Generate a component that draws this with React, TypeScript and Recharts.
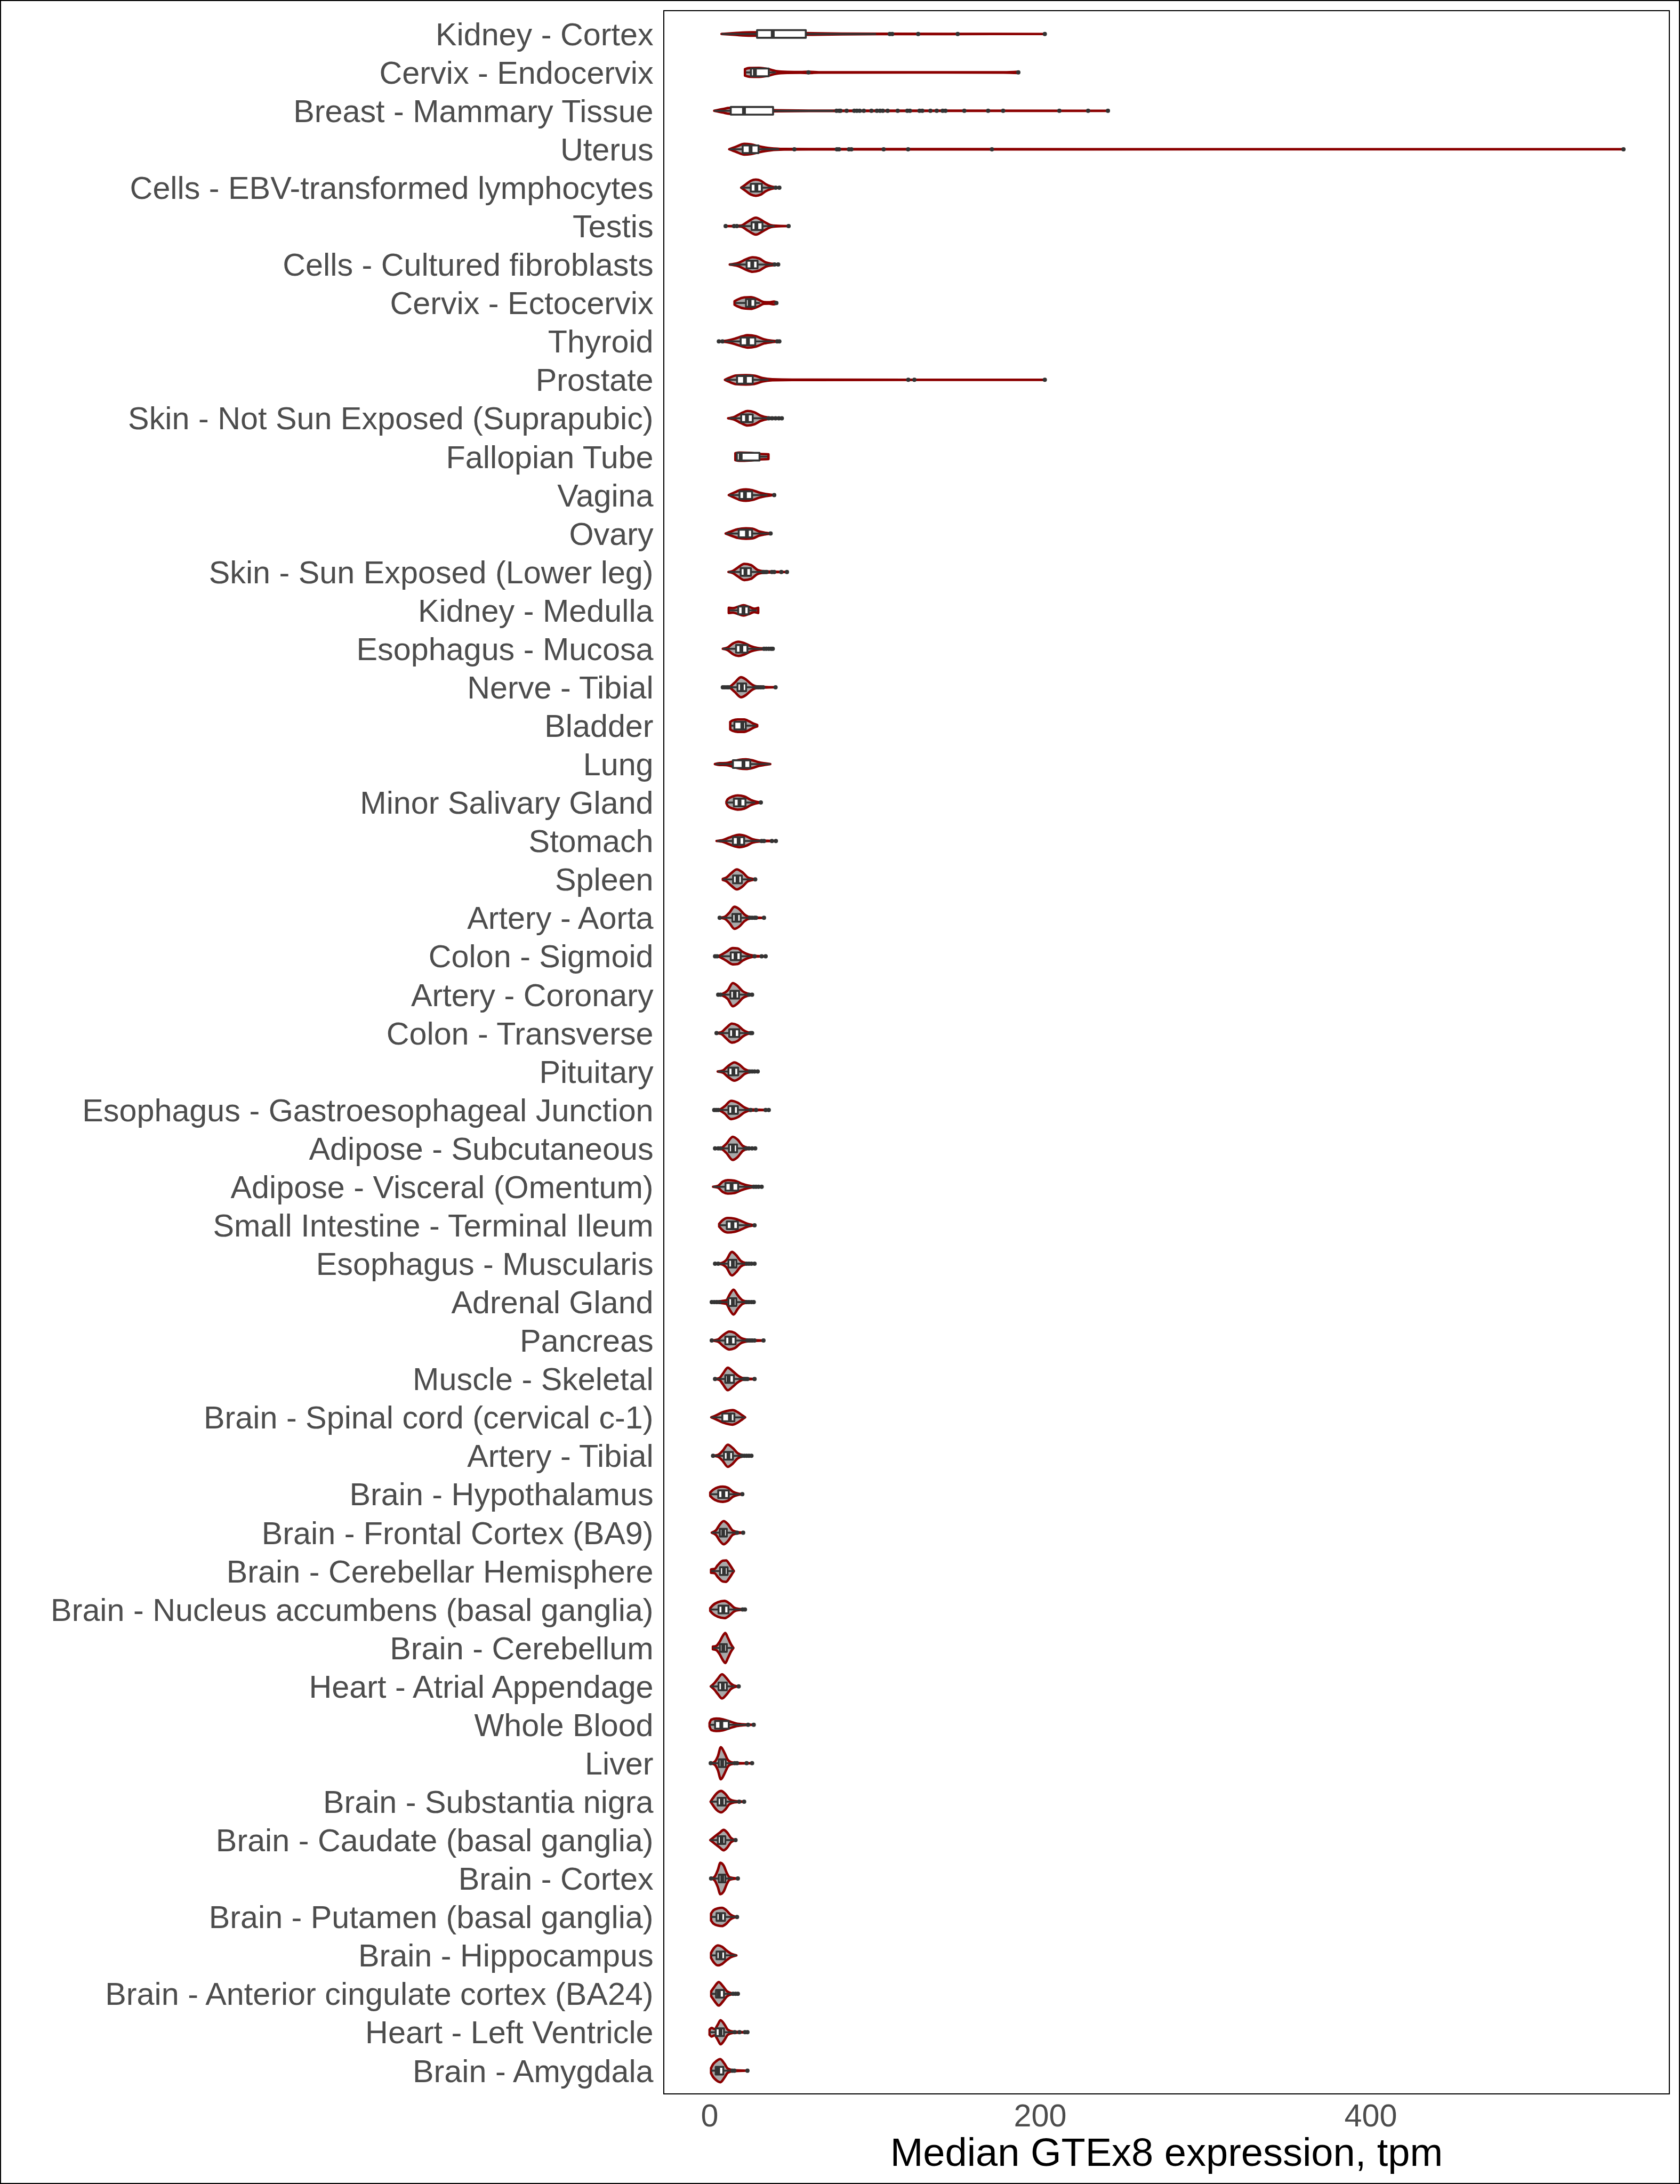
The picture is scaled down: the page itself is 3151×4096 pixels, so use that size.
import React from "react";
import { ComposedChart, Bar, XAxis, YAxis } from "recharts";

const FONT = "Liberation Sans, Arial, Helvetica, sans-serif";

const tissues = [
  "Kidney - Cortex", "Cervix - Endocervix", "Breast - Mammary Tissue", "Uterus",
  "Cells - EBV-transformed lymphocytes", "Testis", "Cells - Cultured fibroblasts",
  "Cervix - Ectocervix", "Thyroid", "Prostate", "Skin - Not Sun Exposed (Suprapubic)",
  "Fallopian Tube", "Vagina", "Ovary", "Skin - Sun Exposed (Lower leg)", "Kidney - Medulla",
  "Esophagus - Mucosa", "Nerve - Tibial", "Bladder", "Lung", "Minor Salivary Gland",
  "Stomach", "Spleen", "Artery - Aorta", "Colon - Sigmoid", "Artery - Coronary",
  "Colon - Transverse", "Pituitary", "Esophagus - Gastroesophageal Junction",
  "Adipose - Subcutaneous", "Adipose - Visceral (Omentum)", "Small Intestine - Terminal Ileum",
  "Esophagus - Muscularis", "Adrenal Gland", "Pancreas", "Muscle - Skeletal",
  "Brain - Spinal cord (cervical c-1)", "Artery - Tibial", "Brain - Hypothalamus",
  "Brain - Frontal Cortex (BA9)", "Brain - Cerebellar Hemisphere",
  "Brain - Nucleus accumbens (basal ganglia)", "Brain - Cerebellum", "Heart - Atrial Appendage",
  "Whole Blood", "Liver", "Brain - Substantia nigra", "Brain - Caudate (basal ganglia)",
  "Brain - Cortex", "Brain - Putamen (basal ganglia)", "Brain - Hippocampus",
  "Brain - Anterior cingulate cortex (BA24)", "Heart - Left Ventricle", "Brain - Amygdala",
];

const whiskerLow = [
  7.2, 22, 2.8, 12.3, 19.1, 18, 12.2, 15.5, 9.5, 9.7,
  12, 16, 12, 10, 11.5, 12.1, 8, 12.3, 12.8, 3.7,
  10.2, 4.5, 8, 7.6, 6.6, 7.6, 5.6, 5, 6.1, 7.1,
  2.1, 5.8, 6.1, 7.1, 2.8, 4.7, 1.0, 3.3, 0.4, 1.3,
  0.9, 0.4, 2.0, 0.7, 0, 1.8, 0.6, 0.4, 1.3, 0.9,
  0.9, 1.0, 0, 0.9,
];
const q1 = [
  28.7, 25, 12.8, 20, 24.9, 25.4, 22.4, 22, 18.8, 16.6,
  19.1, 16.5, 18.1, 17.6, 18.8, 17.3, 16, 16.9, 15, 14.1,
  14.7, 14.1, 14.2, 13.8, 12.8, 12.6, 11.9, 11.4, 11.4, 11.7,
  9.6, 10.4, 11.4, 11.4, 9.5, 9.5, 7.7, 8.7, 5.2, 6.2,
  6.3, 5.4, 6.3, 5.4, 3.3, 5.6, 4.9, 5.0, 5.6, 4.2,
  4.2, 3.9, 3.7, 3.7,
];
const median = [
  38.2, 27.4, 20.8, 24.8, 28.3, 28.3, 25.8, 24.2, 23.2, 21.4,
  22.6, 18.8, 21.4, 22.6, 21.7, 20.5, 19.2, 19.5, 19.8, 20.5,
  18.1, 17.6, 16.9, 16.2, 15.7, 15.2, 14.7, 14.4, 14.2, 14.1,
  13.3, 13.8, 14.1, 14.1, 12.5, 11.5, 12.3, 11.4, 8.3, 8.2,
  8.7, 8.3, 8.3, 8.0, 7.1, 7.6, 7.4, 7.3, 7.6, 6.6,
  6.6, 5.6, 6.6, 5.2,
];
const q3 = [
  58.2, 35.8, 38.4, 29.6, 31.6, 32.0, 29.0, 27.6, 27.6, 26.1,
  26.1, 30.2, 25.7, 25.7, 25.0, 23.6, 22.9, 22.1, 21.9, 24.6,
  21.7, 20.9, 19.5, 18.8, 18.8, 17.8, 17.9, 17.3, 17.1, 16.6,
  17.3, 17.1, 16.2, 16.2, 15.7, 14.7, 15.0, 14.1, 11.6, 10.4,
  10.9, 11.4, 10.4, 10.4, 11.6, 9.7, 9.7, 9.5, 9.5, 9.3,
  9.3, 8.7, 8.7, 8.3,
];
const whiskerHigh = [
  100.7, 40, 75, 42, 38.5, 39.3, 37.8, 30.5, 39, 35.6,
  34.9, 34.9, 35, 35.3, 31.5, 28.6, 31.5, 27.2, 28.1, 36.7,
  27.6, 30.5, 25.7, 22.9, 24.8, 22.4, 23.8, 22.9, 23.8, 20.9,
  25.7, 24.8, 20.9, 21.4, 21.9, 20.0, 21.4, 18.5, 18.1, 15.2,
  14.7, 19.0, 14.4, 15.2, 21.9, 14.2, 16.6, 14.2, 14.2, 15.2,
  16.2, 13.3, 14.2, 12.3,
];

const outliers: number[][] = [
  [109, 110.5, 126.2, 150.1, 202.8],
  [59.8, 186.8],
  [76.8, 78.4, 79.2, 82.9, 87.5, 89.1, 90.8, 93.3, 97.9, 101.2, 103.1, 104.8, 107.7, 113.8,
    119.6, 121.2, 127.0, 128.7, 133.6, 137.4, 141.0, 142.7, 154.1, 168.5, 177.6, 211.6, 229.0, 241.0],
  [51.3, 77.0, 78.3, 84.3, 85.8, 105.3, 120.1, 170.8, 552.9],
  [40.0, 42.2],
  [9.7, 14.8, 16.5, 47.8],
  [39.3, 41.5],
  [40.4],
  [5.6, 7.8, 40.9, 42.2],
  [120.2, 123.9, 202.8],
  [35.8, 37.8, 39.9, 41.9, 43.7],
  [],
  [39.1],
  [36.9],
  [32.5, 33.5, 34.5, 37.7, 39.1, 43.4, 46.8],
  [],
  [32.9, 34.3, 35.8, 37.2, 38.2],
  [8.0, 9.2, 10.5, 11.5, 28.1, 29.6, 31.0, 32.4, 39.9],
  [],
  [],
  [31.0],
  [31.5, 32.9, 37.7, 40.1],
  [27.6],
  [6.1, 24.3, 25.7, 27.2, 28.1, 32.9],
  [3.3, 4.5, 27.2, 31.5, 33.9],
  [5.2, 6.6, 23.8, 25.7],
  [4.2, 24.8, 25.7],
  [24.3, 25.7, 27.2, 29.1],
  [2.8, 4.0, 5.2, 24.8, 28.1, 33.9, 35.8],
  [3.3, 5.2, 6.6, 21.9, 23.8, 25.7, 27.6],
  [26.7, 28.1, 29.6, 31.5],
  [27.2],
  [3.3, 5.2, 22.4, 23.8, 25.3, 27.2],
  [1.3, 2.8, 4.3, 6.1, 22.4, 23.8, 25.3, 26.7],
  [1.3, 22.9, 24.3, 25.7, 27.2, 32.6],
  [3.3, 20.9, 21.9, 22.9, 27.2],
  [],
  [2.1, 19.5, 21.0, 22.4, 23.8, 25.3],
  [19.8],
  [16.6, 20.3],
  [],
  [20.0, 21.4],
  [],
  [17.6],
  [23.3, 26.7],
  [0.7, 15.2, 16.6, 22.4, 25.7],
  [17.9, 20.9],
  [15.7],
  [0.9, 17.1],
  [16.6],
  [],
  [14.2, 15.7, 17.1],
  [15.2, 18.1, 21.4, 22.9],
  [13.8, 15.0, 22.9],
];

// violin outline: [expression, relative half width]
const violins: number[][][] = [
  [[7.2, 0], [15, 0.05], [25, 0.1], [40, 0.1], [58, 0.05], [80, 0.02], [110, 0.01], [202.8, 0]],
  [[21.4, 0.19], [24, 0.25], [30, 0.26], [36, 0.18], [40, 0.08], [47, 0.03], [55, 0.02], [60, 0.04], [66, 0.01], [120, 0.005], [178, 0.01], [186.8, 0.04]],
  [[2.8, 0], [8, 0.1], [12, 0.17], [20, 0.15], [30, 0.08], [40, 0.03], [60, 0.012], [100, 0.008], [241, 0]],
  [[11.9, 0], [16, 0.15], [21, 0.31], [25, 0.28], [30, 0.17], [37, 0.06], [45, 0.02], [60, 0.01], [552.9, 0]],
  [[19.1, 0], [22, 0.2], [25, 0.4], [28, 0.47], [31, 0.4], [34, 0.2], [37, 0.08], [42.2, 0]],
  [[9.7, 0], [15, 0.01], [19, 0.03], [23, 0.25], [28, 0.49], [33, 0.25], [37, 0.06], [40, 0.02], [47.8, 0]],
  [[12.2, 0], [17, 0.08], [22, 0.3], [26, 0.42], [30, 0.35], [34, 0.12], [38, 0.04], [41.5, 0]],
  [[15.1, 0.1], [17, 0.2], [21, 0.32], [25, 0.34], [29, 0.22], [33, 0.05], [36, 0.04], [39, 0.08], [40.6, 0.02]],
  [[5.6, 0], [10, 0.04], [15, 0.15], [20, 0.3], [23, 0.36], [28, 0.3], [33, 0.12], [38, 0.04], [42.2, 0]],
  [[9.3, 0], [12, 0.12], [16, 0.25], [22, 0.27], [27, 0.24], [32, 0.1], [38, 0.03], [50, 0.01], [202.8, 0]],
  [[11.2, 0], [15, 0.08], [19, 0.28], [23, 0.42], [27, 0.35], [31, 0.15], [35, 0.05], [40, 0.02], [43.7, 0]],
  [[15.6, 0.2], [18, 0.24], [24, 0.22], [30, 0.16], [35.6, 0.14]],
  [[11.6, 0], [15, 0.15], [19, 0.3], [22, 0.33], [26, 0.28], [30, 0.15], [34, 0.06], [37, 0.02], [39.1, 0]],
  [[9.7, 0], [13, 0.12], [17, 0.25], [22, 0.3], [26, 0.28], [30, 0.12], [34, 0.04], [36.9, 0]],
  [[11.4, 0], [14, 0.06], [17, 0.25], [21, 0.47], [25, 0.4], [29, 0.12], [33, 0.04], [40, 0.01], [46.8, 0]],
  [[11.6, 0.15], [14, 0.13], [17, 0.2], [20.5, 0.3], [24, 0.2], [27, 0.1], [29.4, 0.15]],
  [[8, 0], [11, 0.08], [14, 0.3], [17.5, 0.41], [21, 0.33], [25, 0.15], [29, 0.05], [33, 0.02], [38.2, 0]],
  [[8, 0], [12, 0.03], [15, 0.25], [19, 0.58], [22, 0.45], [25, 0.2], [28, 0.06], [33, 0.02], [39.9, 0]],
  [[12.5, 0.22], [14, 0.3], [17, 0.36], [21, 0.36], [24, 0.25], [27, 0.1], [28.8, 0.04]],
  [[3.2, 0], [6, 0.05], [10, 0.06], [14, 0.15], [18, 0.25], [22, 0.28], [26, 0.22], [30, 0.1], [34, 0.04], [36.7, 0]],
  [[10.2, 0.05], [11, 0.2], [14, 0.35], [17, 0.41], [21, 0.35], [25, 0.15], [28, 0.05], [31, 0]],
  [[4.2, 0], [8, 0.05], [12, 0.2], [16, 0.33], [18, 0.36], [22, 0.28], [26, 0.1], [30, 0.03], [35, 0.01], [40.1, 0]],
  [[8, 0.03], [10, 0.1], [13, 0.35], [16.5, 0.58], [20, 0.4], [23, 0.12], [26, 0.03], [27.6, 0]],
  [[6.1, 0], [9, 0.05], [12, 0.3], [15, 0.64], [18, 0.5], [21, 0.2], [24, 0.05], [28, 0.02], [32.9, 0]],
  [[3.3, 0], [6, 0.04], [10, 0.25], [14, 0.47], [17, 0.45], [20, 0.25], [24, 0.08], [28, 0.02], [33.9, 0]],
  [[5.2, 0], [8, 0.06], [11, 0.25], [14, 0.67], [17, 0.5], [20, 0.2], [23, 0.06], [25.7, 0]],
  [[4.2, 0], [7, 0.05], [10, 0.3], [13.5, 0.55], [17, 0.45], [20, 0.2], [23, 0.05], [25.7, 0]],
  [[4.9, 0], [8, 0.06], [11, 0.3], [15, 0.53], [18, 0.4], [21, 0.15], [24, 0.04], [29.1, 0]],
  [[2.8, 0], [6, 0.03], [9, 0.2], [13, 0.53], [17, 0.42], [21, 0.15], [24, 0.04], [30, 0.01], [35.8, 0]],
  [[3.3, 0], [7, 0.03], [10, 0.25], [14, 0.67], [17, 0.5], [20, 0.15], [23, 0.04], [27.6, 0]],
  [[2.1, 0], [5, 0.05], [8, 0.3], [11, 0.39], [15, 0.36], [19, 0.2], [23, 0.08], [27, 0.02], [31.5, 0]],
  [[5.8, 0.08], [8, 0.3], [11, 0.42], [15, 0.38], [19, 0.25], [23, 0.08], [27.2, 0]],
  [[3.3, 0], [7, 0.03], [10, 0.2], [13.5, 0.68], [16, 0.5], [19, 0.15], [22, 0.04], [27.2, 0]],
  [[1.3, 0], [5, 0.04], [10, 0.1], [12.5, 0.5], [14.5, 0.72], [17, 0.4], [20, 0.1], [23, 0.03], [26.7, 0]],
  [[1.3, 0], [5, 0.06], [8, 0.3], [12, 0.52], [15, 0.45], [19, 0.15], [23, 0.05], [28, 0.02], [32.6, 0]],
  [[3.3, 0], [6, 0.06], [8, 0.3], [11, 0.65], [14, 0.45], [17, 0.2], [20, 0.05], [23, 0.02], [27.2, 0]],
  [[1, 0], [4, 0.12], [8, 0.3], [12, 0.4], [14, 0.42], [17, 0.3], [20, 0.1], [21.5, 0]],
  [[2.1, 0], [5, 0.05], [8, 0.3], [11, 0.64], [14, 0.45], [17, 0.15], [20, 0.04], [25.3, 0]],
  [[0.4, 0.1], [2, 0.25], [5, 0.4], [8, 0.44], [11, 0.38], [14, 0.15], [17, 0.04], [19.8, 0]],
  [[1.3, 0], [4, 0.15], [6, 0.45], [8.5, 0.67], [11, 0.5], [14, 0.12], [17, 0.03], [20.3, 0]],
  [[0.9, 0.1], [3, 0.12], [5, 0.35], [8, 0.6], [10, 0.62], [12, 0.4], [14, 0.1], [14.7, 0]],
  [[0.4, 0.08], [2, 0.25], [5, 0.42], [9, 0.5], [12, 0.35], [15, 0.1], [18, 0.03], [21.4, 0]],
  [[2, 0.08], [4, 0.12], [6, 0.35], [8, 0.7], [9.5, 0.87], [11, 0.6], [13, 0.2], [14.4, 0]],
  [[0.7, 0], [3, 0.2], [5, 0.45], [7.5, 0.7], [10, 0.5], [13, 0.15], [15, 0.04], [17.6, 0]],
  [[0, 0.1], [1, 0.3], [4, 0.36], [8, 0.32], [12, 0.2], [16, 0.08], [20, 0.03], [26.7, 0]],
  [[0.7, 0], [3, 0.08], [5, 0.4], [6.8, 0.93], [9, 0.6], [11, 0.2], [13, 0.06], [16, 0.02], [25.7, 0]],
  [[0.6, 0], [2, 0.2], [4.5, 0.5], [7, 0.62], [9.5, 0.45], [12, 0.15], [15, 0.04], [20.9, 0]],
  [[0.4, 0], [3, 0.2], [6, 0.42], [8.5, 0.59], [10.5, 0.45], [13, 0.12], [15.7, 0]],
  [[0.9, 0], [3, 0.1], [5, 0.5], [6.5, 0.91], [8.5, 0.75], [10.5, 0.3], [12, 0.08], [14, 0.03], [17.1, 0]],
  [[0.9, 0.2], [2.5, 0.4], [5, 0.5], [7.5, 0.53], [10, 0.4], [12.5, 0.15], [15, 0.03], [16.6, 0]],
  [[0.9, 0.15], [2.5, 0.4], [5, 0.58], [7.5, 0.5], [10, 0.3], [13, 0.1], [16.2, 0]],
  [[1, 0.15], [2.5, 0.35], [4, 0.55], [5.5, 0.68], [8, 0.45], [10.5, 0.15], [13, 0.04], [17.1, 0]],
  [[0, 0.15], [1.2, 0.25], [3, 0.18], [5, 0.45], [6.6, 0.7], [9, 0.45], [11, 0.15], [14, 0.04], [22.9, 0]],
  [[0.9, 0.15], [2, 0.35], [4, 0.55], [6.5, 0.67], [9, 0.4], [11, 0.12], [14, 0.03], [22.9, 0]],
];

const xTicks = [0, 200, 400];
const xDomain = [-27.65, 580.55];

const data = tissues.map((tissue, i) => {
  const v = violins[i];
  const all = [v[0][0], v[v.length - 1][0], whiskerLow[i], whiskerHigh[i], ...outliers[i]];
  const lo = Math.min(...all);
  const hi = Math.max(...all);
  return {
    tissue,
    range: [lo, hi],
    lo,
    hi,
    wlo: whiskerLow[i],
    q1: q1[i],
    med: median[i],
    q3: q3[i],
    whi: whiskerHigh[i],
    out: outliers[i],
    violin: v,
  };
});

// monotone cubic segments through points sorted by x
function monotoneSegments(pts: number[][]) {
  const n = pts.length;
  const s: number[] = [];
  for (let k = 0; k < n - 1; k++) {
    s.push((pts[k + 1][1] - pts[k][1]) / (pts[k + 1][0] - pts[k][0]));
  }
  const t = new Array(n).fill(0);
  for (let k = 1; k < n - 1; k++) {
    const h0 = pts[k][0] - pts[k - 1][0];
    const h1 = pts[k + 1][0] - pts[k][0];
    const p = (s[k - 1] * h1 + s[k] * h0) / (h0 + h1);
    t[k] = (Math.sign(s[k - 1]) + Math.sign(s[k])) *
      Math.min(Math.abs(s[k - 1]), Math.abs(s[k]), 0.5 * Math.abs(p)) || 0;
  }
  t[0] = n > 2 ? (3 * s[0] - t[1]) / 2 : s[0];
  t[n - 1] = n > 2 ? (3 * s[n - 2] - t[n - 2]) / 2 : s[n - 2];
  const segs: number[][] = [];
  for (let k = 0; k < n - 1; k++) {
    const h = (pts[k + 1][0] - pts[k][0]) / 3;
    segs.push([
      pts[k][0] + h, pts[k][1] + h * t[k],
      pts[k + 1][0] - h, pts[k + 1][1] - h * t[k + 1],
      pts[k + 1][0], pts[k + 1][1],
    ]);
  }
  return segs;
}

function violinPath(top: number[][], cy: number) {
  const refl = (y: number) => 2 * cy - y;
  const segs = monotoneSegments(top);
  let d = `M${top[0][0]},${top[0][1]}`;
  segs.forEach((g) => {
    d += `C${g[0]},${g[1]} ${g[2]},${g[3]} ${g[4]},${g[5]}`;
  });
  const last = top[top.length - 1];
  d += `L${last[0]},${refl(last[1])}`;
  for (let k = segs.length - 1; k >= 0; k--) {
    const g = segs[k];
    d += `C${g[2]},${refl(g[3])} ${g[0]},${refl(g[1])} ${top[k][0]},${refl(top[k][1])}`;
  }
  return d + "Z";
}

const ViolinBox = (props: any) => {
  const { x, y, width, height, payload } = props;
  if (!payload || !isFinite(x) || !isFinite(width)) return null;
  const { lo, hi } = payload;
  const px = (v: number) => x + ((v - lo) / (hi - lo)) * width;
  const cy = y + height / 2;
  const maxHw = height * 0.45;
  const boxHw = height * 0.1;
  const top = payload.violin.map((p: number[]) => [px(p[0]), cy - p[1] * maxHw]);
  const dark = "#333333";
  return (
    <g>
      <path
        d={violinPath(top, cy)}
        fill="#A9A9A9"
        stroke="#8B0000"
        strokeWidth={4.6}
        strokeLinejoin="round"
      />
      <line x1={px(payload.wlo)} x2={px(payload.q1)} y1={cy} y2={cy} stroke={dark} strokeWidth={3.6} />
      <line x1={px(payload.q3)} x2={px(payload.whi)} y1={cy} y2={cy} stroke={dark} strokeWidth={3.6} />
      <rect
        x={px(payload.q1)}
        y={cy - boxHw}
        width={px(payload.q3) - px(payload.q1)}
        height={boxHw * 2}
        fill="#FFFFFF"
        stroke={dark}
        strokeWidth={3.6}
        strokeLinejoin="round"
      />
      <line
        x1={px(payload.med)}
        x2={px(payload.med)}
        y1={cy - boxHw}
        y2={cy + boxHw}
        stroke={dark}
        strokeWidth={7.1}
      />
      {payload.out.map((o: number, k: number) => (
        <circle key={k} cx={px(o)} cy={cy} r={4} fill={dark} />
      ))}
    </g>
  );
};

const AxisTitle = (props: any) => {
  const vb = props.viewBox || {};
  return (
    <text
      x={vb.x + vb.width / 2}
      y={vb.y + 135.3}
      textAnchor="middle"
      fontSize={74}
      fontFamily={FONT}
      fill="#000000"
    >
      Median GTEx8 expression, tpm
    </text>
  );
};

export default function App() {
  return (
    <div style={{ position: "absolute", left: 0, top: 0, width: 3151, height: 4096, background: "#fff" }}>
      <ComposedChart
        width={3151}
        height={4096}
        data={data}
        layout="vertical"
        barCategoryGap={0}
        barGap={0}
        margin={{ top: 20.5, right: 20.3, bottom: 0, left: 0 }}
      >
        <XAxis
          type="number"
          domain={xDomain}
          ticks={xTicks}
          allowDataOverflow
          height={169.3}
          tickLine={false}
          axisLine={false}
          tickSize={0}
          tickMargin={19}
          tick={{ fill: "#4D4D4D", fontSize: 59.3, fontFamily: FONT }}
          label={{ content: AxisTitle }}
        />
        <YAxis
          type="category"
          dataKey="tissue"
          width={1245.2}
          interval={0}
          tickLine={false}
          axisLine={false}
          tickSize={0}
          tickMargin={19.6}
          padding={{ top: 7.2, bottom: 7.2 }}
          tick={{ fill: "#4D4D4D", fontSize: 59.3, fontFamily: FONT }}
        />
        <Bar dataKey="range" shape={ViolinBox} isAnimationActive={false} />
      </ComposedChart>
      <div
        style={{
          position: "absolute",
          left: 1244,
          top: 19.3,
          width: 1887.9,
          height: 3908.6,
          border: "2.4px solid #000",
          boxSizing: "border-box",
          pointerEvents: "none",
        }}
      />
      <div
        style={{
          position: "absolute",
          left: 0,
          top: 0,
          width: 3151,
          height: 4096,
          border: "2.4px solid #000",
          boxSizing: "border-box",
          pointerEvents: "none",
        }}
      />
    </div>
  );
}
